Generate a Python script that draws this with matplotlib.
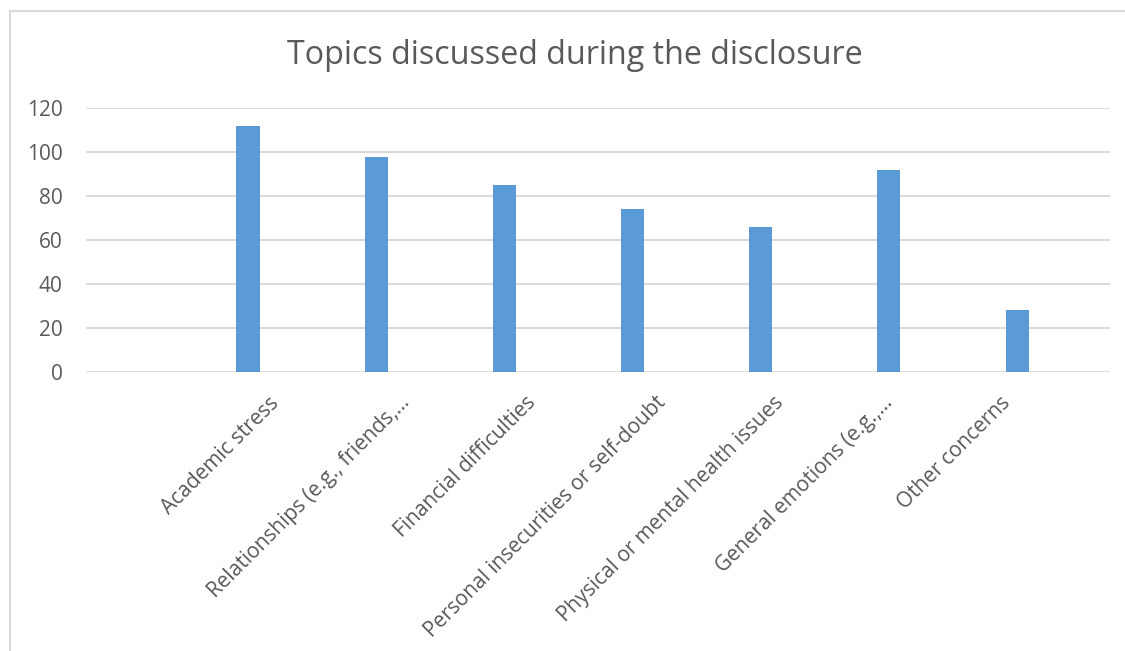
import matplotlib.pyplot as plt
from matplotlib.lines import Line2D

# data
topics = ["Academic stress", "Relationships (e.g., friends,...", "Financial difficulties",
          "Personal insecurities or self-doubt", "Physical or mental health issues",
          "General emotions (e.g.,...", "Other concerns"]
counts = [112, 98, 85, 74, 66, 92, 28]
yticks = [0, 20, 40, 60, 80, 100, 120]

plt.rcParams['font.family'] = ['Open Sans', 'DejaVu Sans']
TXT = "#595959"
GRID = "#D9D9D9"
BAR = "#5B9BD5"

W, H = 1125, 651
fig = plt.figure(figsize=(W / 100, H / 100), dpi=100)
ax = fig.add_axes([86 / W, 1 - 371.7 / H, (1110 - 86) / W, (371.7 - 108.3) / H])

xs = list(range(len(topics)))
ax.bar(xs, counts, width=0.18, color=BAR, zorder=3)

ax.set_xlim(-1.264, 6.725)
ax.set_ylim(0, 120)
ax.set_yticks(yticks)
ax.yaxis.grid(True, color=GRID, linewidth=1.4, zorder=0)
for s in ax.spines.values():
    s.set_visible(False)
ax.tick_params(axis='y', length=0, pad=17, labelsize=15, labelcolor=TXT)

# rotated category labels, Excel puts them a bit off the bars
shift = [0.16, 0.18, 0.16, 0.18, 0.10, -0.05, -0.13]
ax.set_xticks([x + d for x, d in zip(xs, shift)])
ax.set_xticklabels(topics, rotation=45, ha='right', rotation_mode='anchor',
                   fontsize=15, color=TXT)
ax.tick_params(axis='x', length=0, pad=15)

fig.text(575 / W, 1 - 56 / H, "Topics discussed during the disclosure",
         ha='center', va='center', fontsize=23.2, color=TXT)

# chart frame (cropped on right and bottom)
fig.add_artist(Line2D([9.5 / W, 9.5 / W], [0, 1 - 10.5 / H], color=GRID, linewidth=1.5,
                      transform=fig.transFigure))
fig.add_artist(Line2D([9.5 / W, 1], [1 - 10.5 / H, 1 - 10.5 / H], color=GRID, linewidth=1.5,
                      transform=fig.transFigure))

fig.savefig("out.png", dpi=100)
